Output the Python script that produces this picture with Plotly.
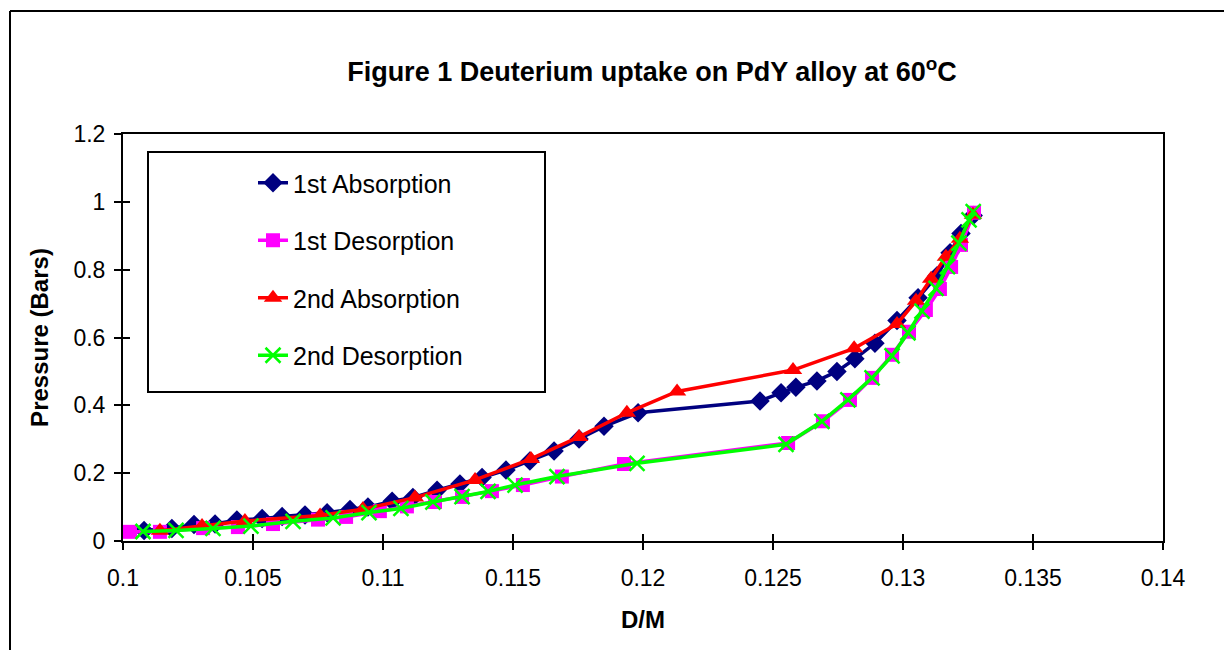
import plotly.graph_objects as go

# ---- data ----
abs1_x = [0.10081, 0.10188, 0.10273, 0.10354, 0.10438, 0.10535, 0.10612, 0.10700, 0.10785, 0.10873,
          0.10942, 0.11035, 0.11115, 0.11208, 0.11296, 0.11381, 0.11473, 0.11565, 0.11658, 0.11754,
          0.11850, 0.11981, 0.12450, 0.12531, 0.12588, 0.12669, 0.12746, 0.12815, 0.12892, 0.12977,
          0.13058, 0.13131, 0.13181, 0.13223, 0.13270]
abs1_y = [0.031, 0.037, 0.049, 0.050, 0.062, 0.066, 0.072, 0.077, 0.083, 0.093,
          0.100, 0.117, 0.128, 0.150, 0.168, 0.187, 0.209, 0.236, 0.265, 0.301,
          0.338, 0.378, 0.413, 0.437, 0.453, 0.472, 0.500, 0.537, 0.583, 0.650,
          0.717, 0.782, 0.850, 0.907, 0.960]

des1_x = [0.10027, 0.10142, 0.10308, 0.10442, 0.10577, 0.10750, 0.10858, 0.10988, 0.11092, 0.11200,
          0.11304, 0.11419, 0.11538, 0.11688, 0.11927, 0.12558, 0.12692, 0.12796, 0.12881, 0.12958,
          0.13023, 0.13088, 0.13142, 0.13185, 0.13223, 0.13273]
des1_y = [0.027, 0.027, 0.038, 0.041, 0.050, 0.063, 0.071, 0.088, 0.102, 0.115,
          0.130, 0.147, 0.165, 0.190, 0.227, 0.289, 0.353, 0.416, 0.481, 0.549,
          0.617, 0.681, 0.743, 0.808, 0.873, 0.968]

abs2_x = [0.10142, 0.10304, 0.10469, 0.10758, 0.10923, 0.11123, 0.11354, 0.11569, 0.11754, 0.11938,
          0.12131, 0.12577, 0.12812, 0.12977, 0.13050, 0.13108, 0.13165, 0.13219, 0.13269]
abs2_y = [0.030, 0.044, 0.059, 0.075, 0.094, 0.128, 0.180, 0.242, 0.307, 0.378,
          0.441, 0.504, 0.568, 0.640, 0.708, 0.773, 0.838, 0.891, 0.962]

des2_x = [0.10077, 0.10204, 0.10346, 0.10492, 0.10654, 0.10808, 0.10946, 0.11069, 0.11192, 0.11304,
          0.11404, 0.11508, 0.11669, 0.11977, 0.12550, 0.12688, 0.12788, 0.12881, 0.12958, 0.13019,
          0.13073, 0.13127, 0.13171, 0.13215, 0.13254, 0.13270]
des2_y = [0.028, 0.031, 0.037, 0.044, 0.058, 0.068, 0.084, 0.096, 0.115, 0.131,
          0.146, 0.165, 0.190, 0.229, 0.285, 0.353, 0.416, 0.481, 0.546, 0.614,
          0.678, 0.745, 0.809, 0.878, 0.947, 0.971]

series_names = ["1st Absorption", "1st Desorption", "2nd Absorption", "2nd Desorption"]

x_tickvals = [0.1, 0.105, 0.11, 0.115, 0.12, 0.125, 0.13, 0.135, 0.14]
x_ticktext = ["0.1", "0.105", "0.11", "0.115", "0.12", "0.125", "0.13", "0.135", "0.14"]
y_tickvals = [0, 0.2, 0.4, 0.6, 0.8, 1.0, 1.2]
y_ticktext = ["0", "0.2", "0.4", "0.6", "0.8", "1", "1.2"]

# ---- figure geometry (page body adds an 8px offset) ----
FONT = "Liberation Sans, Arial, sans-serif"
OFF = 8
W, H = 1232 - OFF, 650 - OFF
PL, PR, PT, PB = 123, 1163, 134, 541          # plot area in page pixels
L, T = PL - OFF, PT - OFF
R, B = W - (PR - OFF), H - (PB - OFF)
PW, PH = PR - PL, PB - PT


def px(xp):
    return (xp - PL) / PW


def py(yp):
    return (PB - yp) / PH


fig = go.Figure()
fig.add_trace(go.Scatter(x=abs1_x, y=abs1_y, name=series_names[0], mode="lines+markers",
                         legendgroup="a", line=dict(color="#000080", width=3.5),
                         marker=dict(symbol="diamond", size=15, color="#000080")))
fig.add_trace(go.Scatter(x=des1_x, y=des1_y, name=series_names[1], mode="lines+markers",
                         legendgroup="b", line=dict(color="#FF00FF", width=3.5),
                         marker=dict(symbol="square", size=14, color="#FF00FF")))
fig.add_trace(go.Scatter(x=abs2_x, y=abs2_y, name=series_names[2], mode="lines+markers",
                         legendgroup="c", line=dict(color="#FF0000", width=3.5),
                         marker=dict(symbol="triangle-up", size=16, color="#FF0000")))
fig.add_trace(go.Scatter(x=des2_x, y=des2_y, name=series_names[3], mode="lines+markers",
                         legendgroup="d", line=dict(color="#00FF00", width=3.5),
                         marker=dict(symbol="x-thin-open", size=15, color="#00FF00",
                                     line=dict(color="#00FF00", width=2.5))))

axis_common = dict(showgrid=False, zeroline=False, showline=True, linecolor="black",
                   linewidth=2, mirror=True, ticks="outside", ticklen=7, tickwidth=2,
                   tickcolor="black", tickfont=dict(family=FONT, size=23, color="black"))

fig.update_layout(
    width=W, height=H,
    margin=dict(l=L, r=R, t=T, b=B),
    paper_bgcolor="white", plot_bgcolor="white",
    title=dict(text="<b>Figure 1 Deuterium uptake on PdY alloy at 60<sup>o</sup>C</b>",
               x=(652 - OFF) / W, xanchor="center", y=1 - (72 - OFF) / H, yanchor="middle",
               font=dict(family=FONT, size=27, color="black")),
    xaxis=dict(range=[0.1, 0.14], tickvals=x_tickvals, ticktext=x_ticktext,
               ticklabelstandoff=8,
               title=dict(text="<b>D/M</b>", font=dict(family=FONT, size=24, color="black"),
                          standoff=22),
               **axis_common),
    yaxis=dict(range=[0, 1.2], tickvals=y_tickvals, ticktext=y_ticktext,
               ticklabelstandoff=4,
               title=dict(text="<b>Pressure (Bars)</b>", font=dict(family=FONT, size=24, color="black"),
                          standoff=18),
               **axis_common),
    xaxis2=dict(overlaying="x", matches="x", anchor="y", range=[0.1, 0.14], tickvals=x_tickvals,
                showticklabels=False, ticks="inside", ticklen=7, tickwidth=2, tickcolor="black",
                showgrid=False, zeroline=False, showline=False),
    yaxis2=dict(overlaying="y", matches="y", anchor="x", range=[0, 1.2], tickvals=y_tickvals,
                showticklabels=False, ticks="inside", ticklen=7, tickwidth=2, tickcolor="black",
                showgrid=False, zeroline=False, showline=False, side="left"),
    showlegend=True,
    legend=dict(x=px(253), xanchor="left", y=py(160), yanchor="top",
                bgcolor="rgba(0,0,0,0)", borderwidth=0, tracegroupgap=22,
                font=dict(family=FONT, size=25, color="black")),
    shapes=[
        # legend frame
        dict(type="rect", xref="paper", yref="paper", x0=px(148), x1=px(545), y0=py(392), y1=py(152),
             line=dict(color="black", width=2), fillcolor="white", layer="below"),
        # outer chart-area border (left and top edges)
        dict(type="line", xref="paper", yref="paper", x0=px(10), x1=px(10), y0=py(11), y1=py(700),
             line=dict(color="black", width=2)),
        dict(type="line", xref="paper", yref="paper", x0=px(10), x1=px(1300), y0=py(11), y1=py(11),
             line=dict(color="black", width=2)),
    ],
)

# invisible trace so the overlay tick axes render
fig.add_trace(go.Scatter(x=[None], y=[None], xaxis="x2", yaxis="y2", showlegend=False,
                         hoverinfo="skip"))

fig.write_html("out.html")
